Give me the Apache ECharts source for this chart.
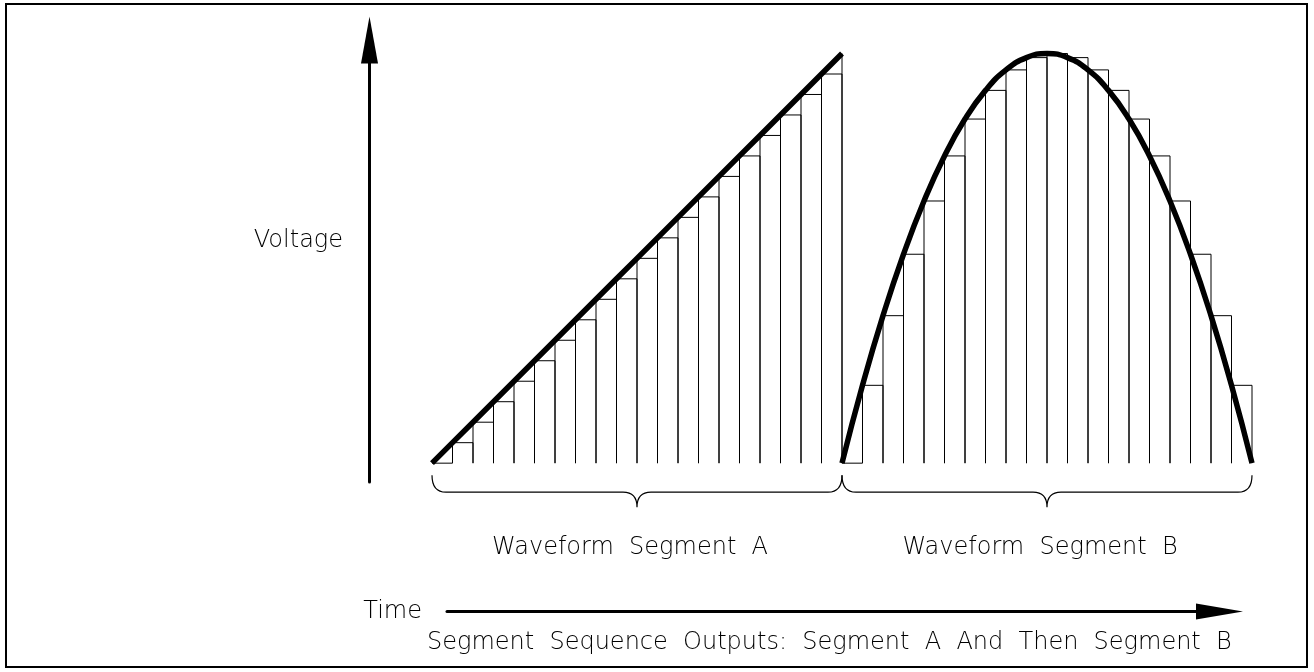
<!DOCTYPE html>
<html>
<head>
<meta charset="utf-8">
<script src="https://cdn.jsdelivr.net/npm/echarts@6/dist/echarts.min.js"></script>
<style>
  html, body { margin: 0; padding: 0; background: #fff; }
  #chart { width: 1314px; height: 672px; }
</style>
</head>
<body>
<div id="chart"></div>
<script>
// sample values (normalised voltage) per segment, one per sample step
var segmentA = [0, 0.05, 0.10, 0.15, 0.20, 0.25, 0.30, 0.35, 0.40, 0.45, 0.50,
  0.55, 0.60, 0.65, 0.70, 0.75, 0.80, 0.85, 0.90, 0.95, 1.00]
var segmentB = [0, 0.19, 0.36, 0.51, 0.64, 0.75, 0.84, 0.91, 0.96, 0.99, 1.00,
  0.99, 0.96, 0.91, 0.84, 0.75, 0.64, 0.51, 0.36, 0.19, 0]
// segment spans on the sample axis + their labels
var segmentStart = [0, 20]
var segmentEnd = [20, 40]
var segmentNames = ['Waveform  Segment  A', 'Waveform  Segment  B']

var FONT = 'DejaVu Sans'
var txt = {
  color: '#000',
  fontFamily: FONT,
  fontSize: 24,
  fontWeight: 200
}

// step data: [x, value, hasNext]
var stepData = []
segmentA.forEach(function (v, i) {
  stepData.push([segmentStart[0] + i, v, i < segmentA.length - 1 ? 1 : 0])
})
segmentB.forEach(function (v, i) {
  stepData.push([segmentStart[1] + i, v, i < segmentB.length - 1 ? 1 : 0])
})

var lineA = segmentA.map(function (v, i) { return [segmentStart[0] + i, v] })
var lineB = segmentB.map(function (v, i) { return [segmentStart[1] + i, v] })
var braceData = segmentStart.map(function (s, i) { return [s, segmentEnd[i], segmentNames[i]] })

var chart = echarts.init(document.getElementById('chart'), null, { renderer: 'canvas' })

chart.setOption({
  animation: false,
  backgroundColor: '#fff',
  graphic: [{
    type: 'rect',
    shape: { x: 6, y: 4, width: 1301, height: 663 },
    style: { fill: 'none', stroke: '#000', lineWidth: 2 },
    silent: true
  }],
  title: [
    {
      text: 'Segment  Sequence  Outputs:  Segment  A  And  Then  Segment  B',
      left: 427,
      top: 631,
      padding: 0,
      textStyle: txt
    },
    {
      // y axis caption
      text: 'Voltage',
      right: 971,
      top: 229,
      padding: 0,
      textStyle: txt
    }
  ],
  grid: [
    { left: 432, right: 62, top: 40, bottom: 190 },
    { left: 447, right: 94.5, bottom: 60.5, height: 10 }
  ],
  xAxis: [
    { type: 'value', gridIndex: 0, min: 0, max: 40, show: false },
    {
      type: 'value', gridIndex: 1, min: 0, max: 1,
      name: 'Time',
      nameLocation: 'start',
      nameGap: 25,
      nameTextStyle: txt,
      axisLine: {
        onZero: false,
        symbol: ['none', 'triangle'],
        symbolSize: [16, 47],
        lineStyle: { color: '#000', width: 3 }
      },
      axisTick: { show: false },
      axisLabel: { show: false },
      splitLine: { show: false }
    }
  ],
  yAxis: [
    {
      type: 'value', gridIndex: 0, min: -0.046, max: 1.033,
      offset: 62.5,
      axisLine: {
        show: true,
        onZero: false,
        symbol: ['none', 'triangle'],
        symbolSize: [17, 47],
        lineStyle: { color: '#000', width: 3 }
      },
      axisTick: { show: false },
      axisLabel: { show: false },
      splitLine: { show: false }
    },
    { type: 'value', gridIndex: 1, show: false }
  ],
  series: [
    {
      // staircase of the sampled output
      type: 'custom',
      xAxisIndex: 0,
      yAxisIndex: 0,
      data: stepData,
      renderItem: function (params, api) {
        var x = api.value(0)
        var v = api.value(1)
        var p0 = api.coord([x, 0])
        var p1 = api.coord([x, v])
        var pts = [p0, p1]
        if (api.value(2)) {
          pts.push(api.coord([x + 1, v]))
          pts.push(api.coord([x + 1, 0]))
        }
        return {
          type: 'polyline',
          shape: { points: pts },
          style: { fill: 'none', stroke: '#000', lineWidth: 1 }
        }
      }
    },
    {
      type: 'line',
      data: lineA,
      symbol: 'none',
      lineStyle: { color: '#000', width: 5.5 }
    },
    {
      type: 'line',
      data: lineB,
      smooth: true,
      symbol: 'none',
      lineStyle: { color: '#000', width: 5.5 }
    },
    {
      // braces + segment names
      type: 'custom',
      xAxisIndex: 0,
      yAxisIndex: 0,
      data: braceData,
      renderItem: function (params, api) {
        var a = api.coord([api.value(0), 0])
        var b = api.coord([api.value(1), 0])
        var mid = (a[0] + b[0]) / 2
        var yTop = a[1] + 12
        var yH = a[1] + 29
        var yTip = a[1] + 44
        var r = 14
        var d = 'M' + a[0] + ',' + yTop +
          ' Q' + a[0] + ',' + yH + ' ' + (a[0] + r) + ',' + yH +
          ' L' + (mid - r) + ',' + yH +
          ' Q' + mid + ',' + yH + ' ' + mid + ',' + yTip +
          ' Q' + mid + ',' + yH + ' ' + (mid + r) + ',' + yH +
          ' L' + (b[0] - r) + ',' + yH +
          ' Q' + b[0] + ',' + yH + ' ' + b[0] + ',' + yTop
        return {
          type: 'group',
          children: [
            {
              type: 'path',
              shape: { pathData: d },
              style: { fill: 'none', stroke: '#000', lineWidth: 1.2 }
            },
            {
              type: 'text',
              style: {
                text: api.value(2),
                x: mid - 7,
                y: a[1] + 85,
                align: 'center',
                verticalAlign: 'middle',
                fill: '#000',
                fontFamily: FONT,
                fontSize: 24,
                fontWeight: 200
              }
            }
          ]
        }
      }
    }
  ]
})
</script>
</body>
</html>
